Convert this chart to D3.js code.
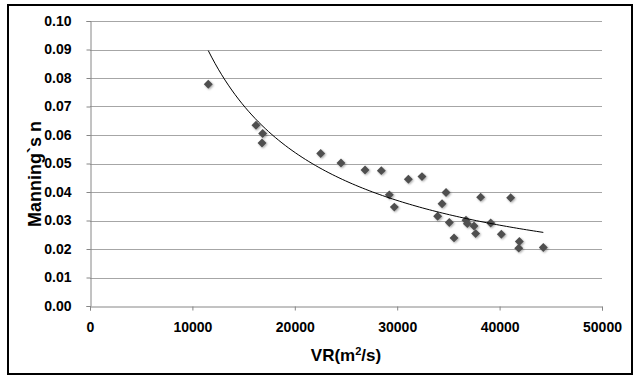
<!DOCTYPE html>
<html>
<head>
<meta charset="utf-8">
<script src="https://cdn.jsdelivr.net/npm/d3@7/dist/d3.min.js"></script>
<style>
  html, body { margin: 0; padding: 0; background: #fff; }
  svg { display: block; }
</style>
</head>
<body>
<svg id="chart" width="635" height="376"></svg>
<script>
// ---- data ----
const vrValues = [11550, 16210, 16860, 16800, 22530, 24510, 26860, 28450, 31090, 32420,
                  29230, 29720, 34770, 34380, 33950, 35090, 35550, 36720, 36850, 37500,
                  37660, 38150, 41080, 39130, 40170, 41930, 41870, 44270];
const manningValues = [0.0778, 0.0634, 0.0605, 0.0572, 0.0535, 0.0502, 0.0477, 0.0475, 0.0445, 0.0454,
                       0.0390, 0.0347, 0.0398, 0.0359, 0.0315, 0.0293, 0.0239, 0.0301, 0.0289, 0.0281,
                       0.0254, 0.0382, 0.0380, 0.0291, 0.0252, 0.0226, 0.0203, 0.0205];
const xTicks = [0, 10000, 20000, 30000, 40000, 50000];
const yTicks = [0, 0.01, 0.02, 0.03, 0.04, 0.05, 0.06, 0.07, 0.08, 0.09, 0.10];
// power trendline y = a * x^b (coefficients)
const trendA = 518;
const trendB = -0.926;
const trendRange = [11550, 44270];

// ---- chart ----
const svg = d3.select("#chart");
const x = d3.scaleLinear().domain([0, 50000]).range([90, 602]);
const y = d3.scaleLinear().domain([0, 0.10]).range([306, 21]);

// outer border
svg.append("rect").attr("x", 8).attr("y", 5).attr("width", 624).attr("height", 369)
  .attr("fill", "#fff").attr("stroke", "#000").attr("stroke-width", 2);

const defs = svg.append("defs");
const f = defs.append("filter").attr("id", "sh").attr("x", "-50%").attr("y", "-50%").attr("width", "200%").attr("height", "200%");
f.append("feGaussianBlur").attr("in", "SourceAlpha").attr("stdDeviation", 1).attr("result", "b");
f.append("feOffset").attr("in", "b").attr("dx", 1).attr("dy", 1).attr("result", "o");
f.append("feComponentTransfer").attr("in", "o").attr("result", "o2")
  .append("feFuncA").attr("type", "linear").attr("slope", 0.35);
const fm = f.append("feMerge");
fm.append("feMergeNode").attr("in", "o2");
fm.append("feMergeNode").attr("in", "SourceGraphic");

// gridlines
svg.append("g").selectAll("line").data(yTicks.filter(d => d > 0)).join("line")
  .attr("x1", x(0)).attr("x2", x(50000))
  .attr("y1", d => Math.round(y(d)) + 0.5).attr("y2", d => Math.round(y(d)) + 0.5)
  .attr("stroke", "#a6a6a6").attr("stroke-width", 1);

const fontFam = "'Liberation Sans', Arial, sans-serif";

// y axis
const yAxis = svg.append("g").attr("transform", `translate(${x(0) + 0.5},0)`)
  .call(d3.axisLeft(y).tickValues(yTicks).tickFormat(d3.format(".2f")).tickSize(4).tickPadding(15));
yAxis.selectAll("path, line").attr("stroke", "#868686");
yAxis.selectAll("text").attr("font-family", fontFam).attr("font-weight", "bold")
  .attr("font-size", 14).attr("fill", "#000");

// x axis
const xAxis = svg.append("g").attr("transform", `translate(0,${y(0) + 0.5})`)
  .call(d3.axisBottom(x).tickValues(xTicks).tickFormat(d3.format("d")).tickSize(4).tickPadding(12));
xAxis.selectAll("path, line").attr("stroke", "#868686");
xAxis.selectAll("text").attr("font-family", fontFam).attr("font-weight", "bold")
  .attr("font-size", 14).attr("fill", "#000");

// points
const pts = vrValues.map((v, i) => ({ x: v, y: manningValues[i] }));
svg.append("g").attr("filter", "url(#sh)").selectAll("path").data(pts).join("path")
  .attr("d", d3.symbol().type(d3.symbolSquare).size(40))
  .attr("transform", d => `translate(${x(d.x)},${y(d.y)}) rotate(45)`)
  .attr("fill", "#4f4f4f");

// trendline
const trendPts = d3.range(0, 101).map(i => {
  const xv = trendRange[0] + (trendRange[1] - trendRange[0]) * i / 100;
  return [xv, trendA * Math.pow(xv, trendB)];
});
svg.append("path").datum(trendPts)
  .attr("d", d3.line().x(d => x(d[0])).y(d => y(d[1])).curve(d3.curveLinear))
  .attr("fill", "none").attr("stroke", "#000").attr("stroke-width", 1);

// axis titles
svg.append("text").attr("transform", "translate(41,174) rotate(-90)")
  .attr("text-anchor", "middle").attr("font-family", fontFam).attr("font-weight", "bold")
  .attr("font-size", 18).attr("fill", "#000").text("Manning`s n");

const xt = svg.append("text").attr("x", 346).attr("y", 361)
  .attr("text-anchor", "middle").attr("font-family", fontFam).attr("font-weight", "bold")
  .attr("font-size", 17).attr("fill", "#000");
xt.append("tspan").text("VR(m");
xt.append("tspan").attr("font-size", 11).attr("dy", -6).text("2");
xt.append("tspan").attr("dy", 6).text("/s)");
</script>
</body>
</html>
